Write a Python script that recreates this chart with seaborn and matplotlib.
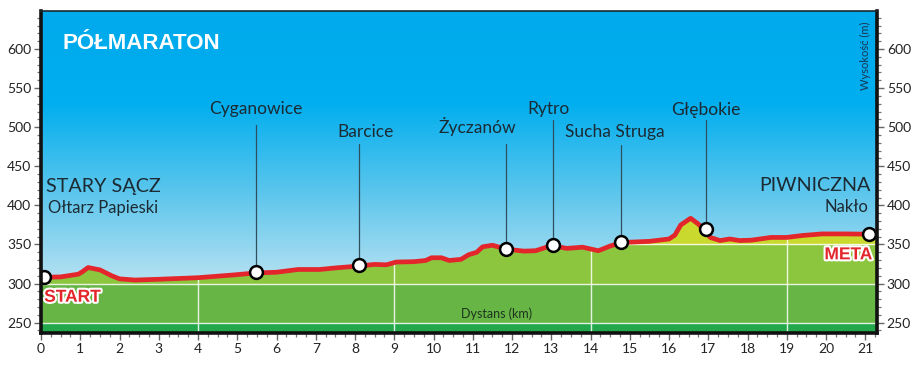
import numpy as np
import pandas as pd
import matplotlib
matplotlib.use("Agg")
import matplotlib.pyplot as plt
import matplotlib.patheffects as pe
from matplotlib.colors import LinearSegmentedColormap
import seaborn as sns

# ---------------- data ----------------
km = [0.0, 0.5, 0.95, 1.05, 1.2, 1.5, 1.8, 2.0, 2.4, 3.0, 4.0, 4.9, 5.45, 6.0, 6.55,
      7.1, 7.5, 8.0, 8.5, 8.8, 9.05, 9.5, 9.8, 9.95, 10.2, 10.4, 10.7, 10.9, 11.1,
      11.25, 11.5, 11.85, 12.3, 12.6, 13.0, 13.4, 13.8, 14.2, 14.5, 14.8, 15.5,
      16.0, 16.15, 16.3, 16.55, 16.75, 16.9, 17.05, 17.3, 17.55, 17.8, 18.1, 18.6,
      19.0, 19.4, 19.9, 20.5, 21.3]
elev = [308, 308.5, 312, 315, 320.5, 317.5, 310, 306, 304.5, 305.5, 307.5, 311, 313.5,
        314.5, 318, 318, 320, 322, 324.5, 324, 327.5, 328, 329.5, 333, 333, 329.5,
        331, 337, 340, 347, 349, 344, 341.5, 342, 348.5, 345, 346.5, 342, 348, 352.5,
        354, 357, 362, 375, 383.5, 376, 368, 359, 355, 357, 355, 355.5, 359, 359,
        361.5, 363.5, 363.5, 363]

stop_names = ["Cyganowice", "Barcice", "Życzanów", "Rytro", "Sucha Struga", "Głębokie"]
stop_km = [5.47, 8.10, 11.84, 13.05, 14.77, 16.95]
stop_elev = [314.4, 323.8, 343.9, 349.0, 352.8, 369.4]

start_km, start_elev = 0.08, 308.5
finish_km, finish_elev = 21.1, 364.0

band_edges = [250, 300, 350]
grid_km = [4, 9, 14, 19]
x_ticks = list(range(0, 22))
y_ticks = [250, 300, 350, 400, 450, 500, 550, 600]

# ---------------- layout ----------------
label_xy = [(5.48, 516.9), (8.26, 487.9), (11.11, 492.2), (12.92, 516.9), (14.63, 487.9), (16.95, 515.6)]
leader_top = [502.8, 478.5, 478.5, 509.2, 477.2, 509.2]
XMIN, XMAX, YMIN, YMAX = 0, 21.3, 236.8, 648.6

sns.set_theme(style="ticks")
plt.rcParams["font.family"] = ["Lato", "DejaVu Sans"]

fig = plt.figure(figsize=(9.2, 3.66), dpi=100)
ax = fig.add_axes([0.0446, 0.0902, 0.9087, 0.8798])
ax.set_xlim(XMIN, XMAX)
ax.set_ylim(YMIN, YMAX)

# sky gradient
sky = LinearSegmentedColormap.from_list("sky", ["#b9e2f2", "#5cc6ec", "#00aeef", "#00aaec"])
grad = np.linspace(0, 1, 256).reshape(-1, 1)
ax.imshow(grad, cmap=sky, origin="lower", aspect="auto",
          extent=(XMIN, XMAX, 300, YMAX), zorder=0)
ax.axhspan(YMIN, 300, color="#b9e2f2", zorder=0)

x = np.array(km)
y = np.array(elev)
# terrain bands
ax.fill_between(x, YMIN, 250, color="#22a84a", lw=0, zorder=1)
ax.fill_between(x, 250, 300, color="#66b545", lw=0, zorder=1)
ax.fill_between(x, 300, np.minimum(y, 350), color="#8cc63f", lw=0, zorder=1)
ax.fill_between(x, 350, y, where=y > 350, interpolate=True, color="#c9d92e", lw=0, zorder=1)

terrain = ax.fill_between(x, YMIN, y, color="none", lw=0, zorder=1)
clip = terrain.get_paths()[0]
for e in band_edges:
    ln = ax.axhline(e, color="white", lw=1.0, alpha=0.85, zorder=2)
    ln.set_clip_path(clip, ax.transData)
for g in grid_km:
    ln = ax.axvline(g, color="white", lw=1.0, alpha=0.85, zorder=2)
    ln.set_clip_path(clip, ax.transData)

# profile line
df = pd.DataFrame({"km": km, "elev": elev})
sns.lineplot(data=df, x="km", y="elev", color="#e3262b", lw=3.4, ax=ax, zorder=4,
             solid_capstyle="round", solid_joinstyle="round")

# leader lines
for sx, sy, top in zip(stop_km, stop_elev, leader_top):
    ax.plot([sx, sx], [sy + 6, top], color="#2f4f5f", lw=0.9, zorder=3)

# markers
mk = pd.DataFrame({"km": [start_km] + stop_km + [finish_km],
                   "elev": [start_elev] + stop_elev + [finish_elev]})
sns.scatterplot(data=mk, x="km", y="elev", s=85, color="white", edgecolor="black",
                linewidth=1.8, ax=ax, zorder=5)

# stop labels
for name, (lx, ly) in zip(stop_names, label_xy):
    ax.text(lx, ly, name, ha="center", va="baseline", fontsize=12.5, color="#1b2a33", zorder=6)

ax.text(0.135, 417.5, "STARY SĄCZ", ha="left", va="baseline", fontsize=14.2, color="#1b2a33")
ax.text(0.19, 390, "Ołtarz Papieski", ha="left", va="baseline", fontsize=12, color="#1b2a33")
ax.text(21.13, 418.4, "PIWNICZNA", ha="right", va="baseline", fontsize=14.2, color="#1b2a33")
ax.text(21.09, 392, "Nakło", ha="right", va="baseline", fontsize=12, color="#1b2a33")

ax.text(0.55, 599.6, "PÓŁMARATON", ha="left", va="baseline", fontsize=16, fontweight="bold",
        color="white", family=["Liberation Sans", "DejaVu Sans"])

outline = [pe.withStroke(linewidth=3, foreground="white")]
ax.text(0.08, 276.8, "START", ha="left", va="baseline", fontsize=12.5, fontweight="bold",
        color="#e3262b", family=["Liberation Sans", "DejaVu Sans"], path_effects=outline, zorder=6)
ax.text(21.18, 331, "META", ha="right", va="baseline", fontsize=12.5, fontweight="bold",
        color="#e3262b", family=["Liberation Sans", "DejaVu Sans"], path_effects=outline, zorder=6)

ax.text(11.6, 261, "Dystans (km)", ha="center", va="center", fontsize=9, color="#1e3320", zorder=6)
ax.text(21.0, 591, "Wysokość (m)", ha="center", va="center", rotation=90, fontsize=8,
        color="#1b3550", zorder=6)

# axes styling
ax.set_xlabel("")
ax.set_ylabel("")
ax.set_xticks(x_ticks)
ax.set_yticks(y_ticks)
ax.set_xticks(np.arange(0, 21.3, 0.25), minor=True)
ax.set_yticks(np.arange(240, 648, 10), minor=True)
ax.tick_params(axis="both", which="major", length=5, width=1.0, color="#666666",
               labelsize=10, labelcolor="#222222", pad=2)
ax.tick_params(axis="both", which="minor", length=3, width=0.9, color="#777777")
ax.tick_params(axis="y", which="both", left=True, right=True, labelleft=True, labelright=True)
for side in ["left", "bottom", "right"]:
    ax.spines[side].set_visible(True)
    ax.spines[side].set_linewidth(2.6)
    ax.spines[side].set_color("#111111")
ax.spines["top"].set_visible(True)
ax.spines["top"].set_linewidth(1.2)
ax.spines["top"].set_color("#1a2a30")
for sp in ax.spines.values():
    sp.set_zorder(10)

fig.savefig("out.png", dpi=100)
